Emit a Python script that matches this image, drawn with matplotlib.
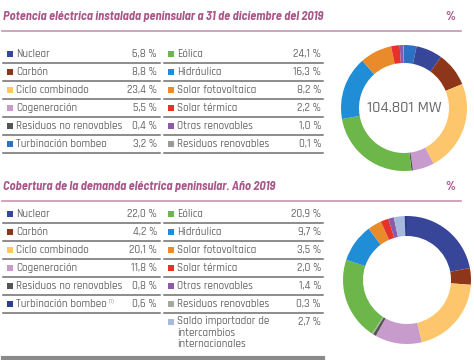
import matplotlib
matplotlib.use("Agg")
import matplotlib.pyplot as plt
from matplotlib.patches import Rectangle
import logging

logging.getLogger("matplotlib.font_manager").setLevel(logging.ERROR)

body_font = ['Rajdhani', 'Barlow Semi Condensed', 'Roboto Condensed', 'DejaVu Sans']
title_font = ['Barlow Semi Condensed', 'Barlow Condensed', 'Roboto Condensed', 'DejaVu Sans']
plt.rcParams['font.family'] = body_font

# --- data ---
pot_labels = ["Nuclear", "Carbón", "Ciclo combinado", "Cogeneración",
              "Residuos no renovables", "Turbinación bombeo",
              "Eólica", "Hidráulica", "Solar fotovoltaica", "Solar térmica",
              "Otras renovables", "Residuos renovables"]
pot_values = [6.8, 8.8, 23.4, 5.5, 0.4, 3.2, 24.1, 16.3, 8.2, 2.2, 1.0, 0.1]
pot_colors = ["#38469a", "#8e3619", "#fec66c", "#c79bcb", "#555555", "#2d72c2",
              "#6cb64a", "#1f8ed6", "#e98b2a", "#e7322b", "#8c5aa9", "#9a9a9a"]
pot_order = [5, 0, 1, 2, 3, 4, 6, 7, 8, 9, 10, 11]
pot_total = "104.801 MW"

dem_labels = ["Nuclear", "Carbón", "Ciclo combinado", "Cogeneración",
              "Residuos no renovables", "Turbinación bombeo",
              "Eólica", "Hidráulica", "Solar fotovoltaica", "Solar térmica",
              "Otras renovables", "Residuos renovables",
              "Saldo importador de\nintercambios\ninternacionales"]
dem_values = [22.0, 4.2, 20.1, 11.8, 0.8, 0.6, 20.9, 9.7, 3.5, 2.0, 1.4, 0.3, 2.7]
dem_colors = ["#38469a", "#8e3619", "#fec66c", "#c79bcb", "#555555", "#2b3f8e",
              "#6cb64a", "#1f8ed6", "#e98b2a", "#e7322b", "#8c5aa9", "#a3a9a0",
              "#a7b9dc"]
dem_order = [0, 1, 2, 3, 4, 11, 6, 7, 8, 9, 10, 12, 5]
dem_note = {5: "(1)"}

titles = ["Potencia eléctrica instalada peninsular a 31 de diciembre del 2019",
          "Cobertura de la demanda eléctrica peninsular. Año 2019"]

W, H = 474, 360
title_col = "#a9588a"
text_col = "#666666"
line_col = "#6e6e6e"

fig = plt.figure(figsize=(W / 100, H / 100), dpi=100)
ax = fig.add_axes([0, 0, 1, 1])
ax.set_xlim(0, W)
ax.set_ylim(H, 0)
ax.axis("off")


def fmt(v):
    return f"{v:.1f}".replace(".", ",") + " %"


def section(title, labels, values, colors, y_title, y0, notes=None):
    notes = notes or {}
    ax.text(3, y_title, title, fontsize=9, fontweight="bold", style="italic",
            family=title_font, color=title_col, va="center", ha="left")
    ax.text(455, y_title, "%", fontsize=9, fontweight="bold",
            family=title_font, color=title_col, va="center", ha="right")
    ax.plot([2, 461], [y_title + 14, y_title + 14], color="#c894b2", lw=1.2)
    for i in range(len(labels)):
        col = 0 if i < 6 else 1
        row = i if i < 6 else i - 6
        x0 = 7 if col == 0 else 168
        xv = 157 if col == 0 else 321
        y = y0 + row * 18
        ax.add_patch(Rectangle((x0, y - 3), 6, 6, color=colors[i], lw=0))
        multi = "\n" in labels[i]
        t = ax.text(x0 + 9, y - 6 if multi else y, labels[i], fontsize=8,
                    fontweight="medium", color=text_col,
                    va="top" if multi else "center", ha="left", linespacing=1.2)
        if i in notes:
            ax.annotate(notes[i], xy=(1, 0.85), xycoords=t, xytext=(1.5, 0),
                        textcoords="offset points", fontsize=4.5,
                        color=text_col, va="center", ha="left")
        ax.text(xv, y, fmt(values[i]), fontsize=8, fontweight="medium",
                color=text_col, va="center", ha="right")
    for r in range(6):
        y = y0 + r * 18 + 9
        ax.plot([3, 160], [y, y], color=line_col, lw=1.1)
        ax.plot([164, 323], [y, y], color=line_col, lw=1.1)


def donut(values, colors, order, cx, cy, r, rin, center=None):
    pax = fig.add_axes([(cx - r) / W, (H - cy - r) / H, 2 * r / W, 2 * r / H])
    pax.pie([values[k] for k in order], colors=[colors[k] for k in order],
            startangle=90, counterclock=False, radius=1,
            wedgeprops=dict(width=1 - rin / r, linewidth=0))
    pax.set_xlim(-1, 1)
    pax.set_ylim(-1, 1)
    pax.set_aspect("equal")
    pax.axis("off")
    if center:
        pax.text(0, 0, center, fontsize=11.5, fontweight="medium",
                 color="#6b6b6b", ha="center", va="center")


# top section
section(titles[0], pot_labels, pot_values, pot_colors, 17, 54)
donut(pot_values, pot_colors, pot_order, 404, 108, 63, 45, pot_total)

# bottom section
section(titles[1], dem_labels, dem_values, dem_colors, 187, 214, dem_note)
ax.plot([3, 323], [357.5, 357.5], color="#8a8a8a", lw=3)
donut(dem_values, dem_colors, dem_order, 407, 280, 64, 44)

fig.savefig("out.png", dpi=100)
